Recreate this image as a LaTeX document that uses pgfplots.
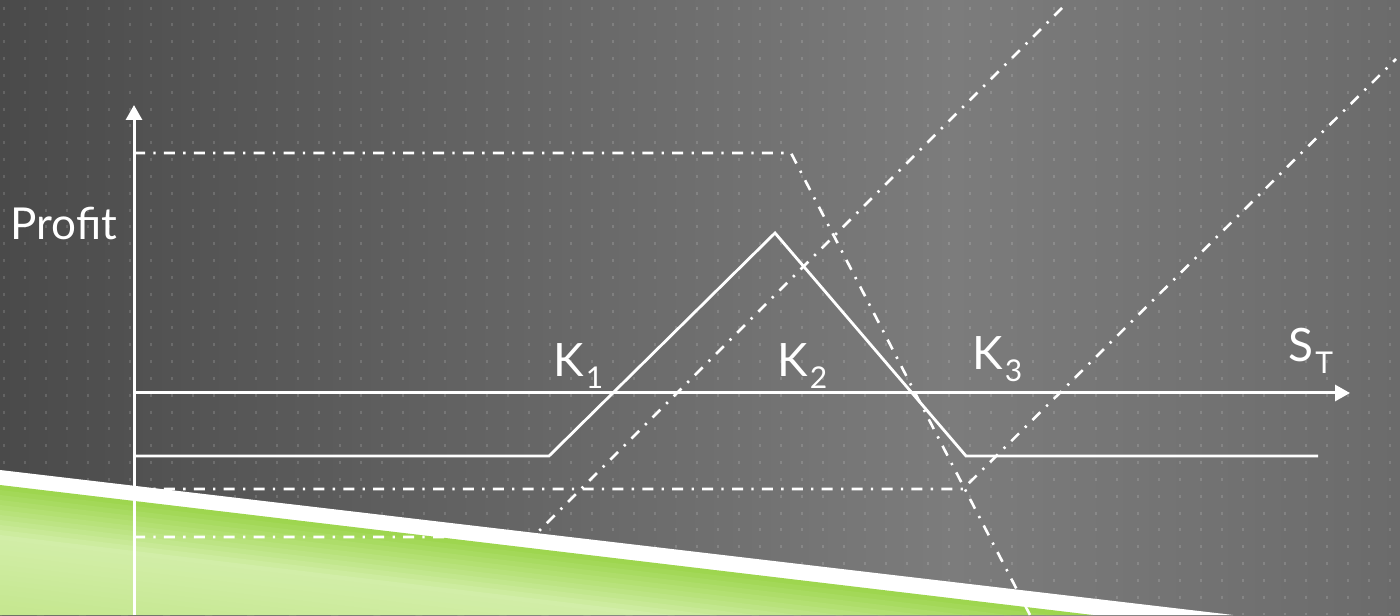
\documentclass[border=0pt]{standalone}
\usepackage{pgfplots}
\pgfplotsset{compat=1.18}
\usetikzlibrary{arrows.meta}
\usepackage{fontspec}
\setmainfont{Lato}
\definecolor{bgL}{HTML}{4A4A4A}
\definecolor{bgM}{HTML}{7C7C7C}
\definecolor{bgR}{HTML}{6B6B6B}
\definecolor{gDark}{HTML}{9ED64F}
\definecolor{gLight}{HTML}{D2EEA8}
\definecolor{gLow}{HTML}{C4E68D}
\newcommand{\sub}[1]{\hspace{1pt}\raisebox{-6pt}{\fontsize{15}{15}\selectfont #1}}
\begin{document}
\begin{tikzpicture}[x=0.5pt,y=0.5pt]
\useasboundingbox (0,0) rectangle (1400,615);
\clip (0,0) rectangle (1400,615);
% background
\shade[left color=bgL, right color=bgM] (0,0) rectangle (951,615);
\shade[left color=bgM, right color=bgR] (950,0) rectangle (1400,615);
\foreach \i in {0,...,66}{
  \draw[white, opacity=0.14, line width=0.7pt, dash pattern=on 1.5pt off 6.915pt, dash phase=5.1pt] ({4+21*\i},615) -- ({4+21*\i},0);
}
% white band and green
\fill[white] (0,145) -- (1233,0) -- (0,0) -- cycle;
\begin{scope}
\clip (0,130) -- (1093,0) -- (0,0) -- cycle;
\foreach \dd in {0,5,...,130}{
  \pgfmathtruncatemacro\p{\dd<50 ? \dd*2 : (\dd-50)*1.25}
  \ifnum\dd<50 \colorlet{cur}{gLight!\p!gDark}\else\colorlet{cur}{gLow!\p!gLight}\fi
  \fill[cur] (0,{130-\dd}) -- (1100,{130-130.84-\dd}) -- (1100,{130-130.84-\dd-5.6}) -- (0,{130-\dd-5.6}) -- cycle;
}
\end{scope}
\begin{axis}[at={(0,0)}, anchor=south west, scale only axis, width=700pt, height=307.5pt,
  xmin=0, xmax=1400, ymin=0, ymax=615, hide axis, clip=false]
% axes
\addplot[white, line width=1.5pt, -{Triangle[length=7.5pt,width=8pt]}] coordinates {(134,0) (134,510)};
\addplot[white, line width=1.5pt, -{Triangle[length=7.5pt,width=8pt]}] coordinates {(134,222) (1350,222)};
% butterfly payoff
\addplot[white, line width=1.4pt] coordinates {(134,159) (549,159) (775,382) (966,159) (1318,159)};
% two short calls at K2
\addplot[white, line width=1.3pt, dash pattern=on 5.5pt off 4.15pt on 1.15pt off 4.15pt] coordinates {(134,462) (791,462) (1030,0)};
% long call K1
\addplot[white, line width=1.3pt, dash pattern=on 5.5pt off 4.15pt on 1.15pt off 4.15pt] coordinates {(134,78) (533,78) (1063,608)};
% long call K3
\addplot[white, line width=1.3pt, dash pattern=on 5.5pt off 4.15pt on 1.15pt off 4.15pt] coordinates {(134,126) (963,126) (1396,556)};
% labels
\node[anchor=base west, text=white, font=\fontsize{22}{22}\selectfont, inner sep=0pt] at (axis cs:10,375) {Profit};
\node[anchor=base west, text=white, font=\fontsize{23}{23}\selectfont, inner sep=0pt] at (axis cs:553,238) {K\sub{1}};
\node[anchor=base west, text=white, font=\fontsize{23}{23}\selectfont, inner sep=0pt] at (axis cs:777,238) {K\sub{2}};
\node[anchor=base west, text=white, font=\fontsize{23}{23}\selectfont, inner sep=0pt] at (axis cs:972,245) {K\sub{3}};
\node[anchor=base west, text=white, font=\fontsize{23}{23}\selectfont, inner sep=0pt] at (axis cs:1288,253) {S\sub{T}};
\end{axis}
\end{tikzpicture}
\end{document}
